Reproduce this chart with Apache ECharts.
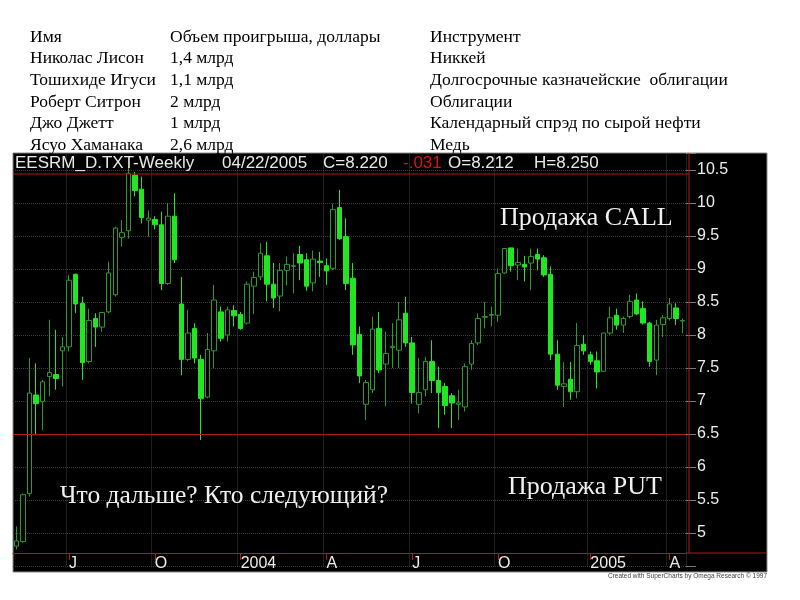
<!DOCTYPE html>
<html><head><meta charset="utf-8">
<script src="https://cdn.jsdelivr.net/npm/echarts@6/dist/echarts.min.js"></script>
<style>html,body{margin:0;padding:0;background:#fff}#c{width:800px;height:600px}</style>
</head><body><div id="c"></div>
<script>
// ---- data ----
const startDate = '2003-05-09';
const opens  = [4.80,4.87,5.60,7.09,6.99,7.37,7.40,7.76,7.82,8.92,8.48,7.60,8.25,8.12,8.35,8.61,9.48,9.58,10.42,10.21,9.74,9.75,9.67,8.78,9.80,8.47,
                7.63,8.10,7.63,7.06,7.76,8.35,8.00,8.37,8.31,8.18,8.74,8.88,9.20,8.77,8.59,8.98,9.04,9.22,9.14,8.79,9.12,9.05,9.01,9.93,9.49,8.86,8.01,
                6.95,7.17,8.10,7.56,7.81,7.77,8.33,7.88,6.95,7.17,7.60,7.31,7.22,7.08,6.95,6.91,7.56,7.88,8.27,8.30,8.30,8.94,9.32,9.06,9.07,9.09,9.22,
                9.17,8.92,7.71,7.22,7.33,7.14,7.86,7.70,7.61,7.45,8.03,8.30,8.15,8.28,8.53,8.40,8.18,7.62,8.16,8.25,8.41,8.212];
const closes = [4.88,5.58,7.12,6.96,7.29,7.43,7.34,7.82,8.83,8.47,7.58,8.22,8.12,8.34,8.94,9.62,9.55,10.45,10.19,9.78,9.77,9.67,8.78,9.80,9.14,7.63,
                8.03,7.65,7.04,7.78,8.53,7.95,8.38,8.29,8.10,8.77,8.87,9.24,8.77,8.56,8.98,9.07,9.05,9.09,8.74,9.15,9.10,8.97,9.90,9.46,8.78,7.85,7.38,
                7.28,8.09,7.47,7.72,7.83,8.23,7.88,7.13,7.13,7.60,7.31,7.13,6.93,6.97,6.97,7.52,7.87,8.25,8.28,8.31,8.93,9.31,9.05,9.10,9.03,9.19,9.15,
                8.91,7.71,7.24,7.26,7.14,7.84,7.76,7.60,7.44,8.03,8.26,8.15,8.25,8.51,8.32,8.18,7.60,8.15,8.26,8.47,8.25,8.220];
const lows   = [4.75,4.85,5.55,6.50,6.56,7.07,7.17,7.22,7.75,8.33,7.32,7.57,7.82,8.05,8.33,8.58,9.34,9.46,10.10,9.69,9.49,9.60,8.68,8.76,9.09,7.39,
                7.60,7.57,6.41,7.04,7.50,7.90,7.90,8.13,8.08,8.16,8.32,8.83,8.51,8.41,8.36,8.75,8.63,8.83,8.67,8.66,8.88,8.76,8.98,9.44,8.68,7.70,7.27,
                6.71,7.12,7.42,6.92,7.50,7.50,7.82,6.96,6.81,7.07,7.12,6.59,6.79,6.59,6.71,6.84,7.47,7.85,8.10,8.13,8.20,8.93,8.96,8.83,8.81,8.68,8.98,
                8.88,7.62,7.17,6.91,7.02,7.04,7.70,7.55,7.19,7.44,8.00,8.08,8.03,8.25,8.30,8.16,7.52,7.39,7.97,8.22,8.15,8.03];
const highs  = [5.10,5.60,7.65,7.57,7.32,8.23,8.08,7.97,8.91,8.93,8.58,8.40,8.33,8.35,9.11,9.64,9.74,10.55,10.47,10.40,9.89,9.80,9.87,10.00,10.15,8.88,
                8.38,8.18,7.70,8.03,8.76,8.43,8.43,8.45,8.35,8.81,8.96,9.39,9.41,9.09,9.09,9.19,9.24,9.35,9.24,9.28,9.26,9.16,9.99,10.20,9.77,9.09,8.13,
                7.32,8.28,8.35,8.05,8.18,8.50,8.58,7.97,7.65,7.67,7.92,7.52,7.27,7.12,7.17,7.57,7.92,8.33,8.50,8.43,9.01,9.31,9.32,9.31,9.20,9.31,9.31,
                9.21,9.04,7.92,7.59,7.59,8.18,8.00,7.75,7.75,8.03,8.43,8.40,8.28,8.61,8.63,8.51,8.20,8.23,8.30,8.56,8.48,8.25];
const supportLevel = 6.5;
const tickDates  = ['2003-07-04','2003-10-03','2004-01-02','2004-04-02','2004-07-02','2004-10-01','2005-01-07','2005-04-01'];
const tickLabels = ['J','O','2004','A','J','O','2005','A'];
const tableHeader = ['Имя','Объем проигрыша, доллары','Инструмент'];
const tableNames = ['Николас Лисон','Тошихиде Игуси','Роберт Ситрон','Джо Джетт','Ясуо Хаманака'];
const tableLosses = ['1,4 млрд','1,1 млрд','2 млрд','1 млрд','2,6 млрд'];
const tableInstruments = ['Никкей','Долгосрочные казначейские  облигации','Облигации','Календарный спрэд по сырой нефти','Медь'];

// ---- build ----
const dates = [];
let t = Date.parse(startDate + 'T00:00:00Z');
for (let i = 0; i < opens.length; i++) { dates.push(new Date(t).toISOString().slice(0,10)); t += 7*86400000; }
const candles = opens.map((o,i)=>[o, closes[i], lows[i], highs[i]]);
const isTick = (i) => tickDates.indexOf(dates[i]) >= 0;

const serif = '"Liberation Serif", "Times New Roman", serif';
const sans = '"Liberation Sans", Arial, sans-serif';
const red = '#b3171b';

const graphic = [
  {type:'rect', z:-10, shape:{x:13,y:153,width:754,height:419}, style:{fill:'#000', stroke:'#8a8a8a', lineWidth:1}},
  {type:'line', z:5, shape:{x1:13,y1:174,x2:689,y2:174}, style:{stroke:red, lineWidth:1}},
  {type:'line', z:5, shape:{x1:689,y1:153,x2:689,y2:553}, style:{stroke:red, lineWidth:1}},
  {type:'line', z:5, shape:{x1:686,y1:553,x2:767,y2:553}, style:{stroke:red, lineWidth:1}},
];
function txt(s, x, y, font, fill, align){
  graphic.push({type:'text', z:50, x:x, y:y, style:{text:s, font:font, fill:fill, align:align||'left', verticalAlign:'middle'}});
}
// table
const colX = [30,170,430];
const tFont = '17.5px ' + serif;
tableHeader.forEach((h,j)=>txt(h, colX[j], 37, tFont, '#000'));
tableNames.forEach((n,i)=>{
  const y = 37 + 21.7*(i+1);
  txt(n, colX[0], y, tFont, '#000');
  txt(tableLosses[i], colX[1], y, tFont, '#000');
  txt(tableInstruments[i], colX[2], y, tFont, '#000');
});
// header line of chart
txt('EESRM_D.TXT-Weekly', 15, 163, '17px '+sans, '#e8e8e8');
txt('04/22/2005', 222, 163, '17px '+sans, '#e8e8e8');
txt('C=8.220', 323, 163, '17px '+sans, '#e8e8e8');
txt('-.031', 403, 163, '17px '+sans, '#e01010');
txt('O=8.212', 448, 163, '17px '+sans, '#e8e8e8');
txt('H=8.250', 534, 163, '17px '+sans, '#e8e8e8');
// annotations
txt('Продажа CALL', 500, 218, '26px '+serif, '#f0f0f0');
txt('Продажа PUT', 508, 487, '26px '+serif, '#f0f0f0');
txt('Что дальше? Кто следующий?', 60, 496, '25.5px '+serif, '#f0f0f0');
txt('Created with SuperCharts by Omega Research © 1997', 767, 576, '6.5px '+sans, '#444', 'right');

const chart = echarts.init(document.getElementById('c'), null, {renderer:'canvas'});
chart.setOption({
  backgroundColor:'#fff',
  animation:false,
  graphic: graphic,
  grid:{left:13, top:153.5, width:673, height:412.5, containLabel:false},
  xAxis:{
    type:'category', data:dates, boundaryGap:true, offset:-13,
    axisLine:{show:true, lineStyle:{color:red, width:1}},
    axisTick:{show:true, alignWithLabel:true, length:7, interval:(i)=>isTick(i), lineStyle:{color:red}},
    axisLabel:{interval:(i)=>isTick(i), formatter:(v)=>{const k=tickDates.indexOf(v);return k>=0?tickLabels[k]:'';},
      align:'left', margin:3, color:'#ececec', fontFamily:sans, fontSize:16},
    splitLine:{show:true, interval:(i)=>isTick(i), lineStyle:{color:'#3c3c3c', type:'dotted', width:1}}
  },
  yAxis:{
    type:'value', position:'right', min:4.5, max:10.75, interval:0.5,
    axisLine:{show:false},
    axisTick:{show:true, length:10, lineStyle:{color:'#7a7a7a'}},
    axisLabel:{margin:11, color:'#ececec', fontFamily:sans, fontSize:16,
      formatter:(v)=> (v < 4.9 || v > 10.6) ? '' : String(v)},
    splitLine:{show:true, lineStyle:{color:'#3c3c3c', type:'dotted', width:1}}
  },
  series:[{
    type:'candlestick', data:candles, barWidth:5, clip:false,
    itemStyle:{color:'#000', color0:'#22e622', borderColor:'#2c9a2c', borderColor0:'#22e622', borderWidth:1},
    markLine:{silent:true, symbol:'none', label:{show:false},
      lineStyle:{color:red, type:'solid', width:1}, data:[{yAxis:supportLevel}]}
  }]
});
</script></body></html>
